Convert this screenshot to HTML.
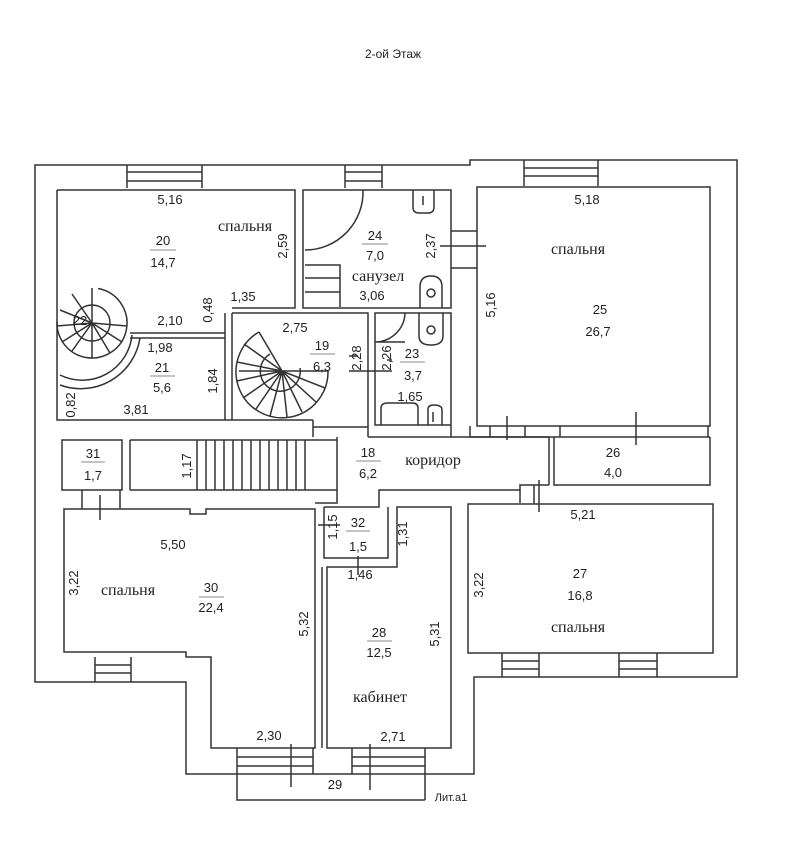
<!DOCTYPE html>
<html><head><meta charset="utf-8"><style>
html,body{margin:0;padding:0;background:#fff;}
svg{display:block;}
.n{font-family:"Liberation Sans",sans-serif;font-size:13px;fill:#222;text-anchor:middle;}
.w{font-family:"Liberation Serif","DejaVu Serif",serif;font-size:16px;fill:#222;text-anchor:middle;}
</style></head><body>
<svg width="803" height="850" viewBox="0 0 803 850" xmlns="http://www.w3.org/2000/svg">
<rect width="803" height="850" fill="#fff"/>
<text x="393" y="58" class="n" style="font-size:12px">2-ой Этаж</text>
<g fill="none" stroke="#333" stroke-width="1.5">
<!-- outer walls -->
<path d="M35,165 H470 V160 H737 V677 H474 V774 H186 V682 H35 Z"/>
<!-- windows top -->
<path d="M127,165 V188 M202,165 V188 M127,172 H202 M127,181 H202"/>
<path d="M345,165 V188 M382,165 V188 M345,172 H382 M345,181 H382"/>
<path d="M524,160 V186 M598,160 V186 M524,168 H598 M524,176 H598"/>
<!-- room 20/21 -->
<path d="M57,190 H295 V308 H232"/>
<path d="M57,190 V420 H313"/>
<path d="M130,333 H225 M130,338 H225"/>
<path d="M225,313 V420"/>
<path d="M232,313 V420"/>
<!-- room 24 -->
<path d="M303,190 H451 V308 H303 Z"/>
<path d="M363,190 A58,58 0 0 1 305,250"/>
<path d="M305,265 H340 V307 M305,278 H340 M305,292 H340"/>
<path d="M413,190 V207 Q413,213 419,213 H428 Q434,213 434,207 V190 M423,196 V205"/>
<path d="M420,308 V287 Q420,276 431,276 Q442,276 442,287 V308"/>
<circle cx="431" cy="293" r="4"/>
<path d="M451,231 H477 M451,268 H477 M440,246 H486"/>
<!-- room 19 -->
<path d="M232,313 H368 V427 H313 M368,313 V437"/>
<!-- room 23 -->
<path d="M375,313 H451 V425 H375 Z M368,437 H451 V425"/>
<path d="M375,342 A30,30 0 0 0 405,313 M375,342 H405"/>
<path d="M419,313 V336 Q419,345 431,345 Q443,345 443,336 V313"/>
<circle cx="431" cy="330" r="4"/>
<path d="M381,425 V408 Q381,403 388,403 H412 Q418,403 418,408 V425 M428,425 V409 Q428,405 434,405 Q442,405 442,410 V425 M433,412 V422"/>
<path d="M349,356 H358 M349,371 H392 M387,360 H392"/>
<!-- room 25 -->
<path d="M477,187 H710 V426 H477 Z"/>
<path d="M470,426 V437 H710 M490,426 V437 M525,426 V437 M560,426 V437 M708,426 V437"/>
<path d="M507,416 V440 M636,412 V445"/>
<!-- room 26 -->
<path d="M554,437 V485 H710 V437 M549,437 V485"/>
<!-- corridor -->
<path d="M451,437 H549 M549,485 H520 V503"/>
<path d="M313,420 V437 M337,437 V490"/>
<!-- stair / 31 -->
<path d="M130,440 H337 M130,490 H337 M130,440 V490"/>
<path d="M62,440 H122 V490 H62 Z"/>
<path d="M197,440 V490 M206,440 V490 M215,440 V490 M224,440 V490 M233,440 V490 M242,440 V490 M251,440 V490 M260,440 V490 M269,440 V490 M278,440 V490 M287,440 V490 M296,440 V490 M305,440 V490"/>
<path d="M82,490 V509 M120,490 V509 M100,495 V520"/>
<!-- room 30 -->
<path d="M64,509 H190 V514 H206 V509 H315 V748 H211 V657 H186 V652 H64 Z"/>
<path d="M337,490 V503 H315"/>
<path d="M95,657 V682 M131,657 V682 M95,665 H131 M95,673 H131"/>
<!-- room 32 / 28 -->
<path d="M324,507 H379 V490 H520 M324,507 V558 H388 V507"/>
<path d="M397,507 H451 V748 H327 V567 H397 Z"/>
<path d="M322,567 V748 M318,525 H340 M358,556 V575"/>
<!-- bottom windows -->
<path d="M237,748 V774 M313,748 V774 M237,757 H313 M237,766 H313 M291,744 V787"/>
<path d="M352,748 V774 M425,748 V774 M352,757 H425 M352,766 H425 M370,744 V790"/>
<!-- porch 29 -->
<path d="M237,774 V800 H425 M425,774 V800"/>
<!-- room 27 -->
<path d="M468,504 H713 V653 H468 Z"/>
<path d="M502,653 V677 M539,653 V677 M502,661 H539 M502,669 H539"/>
<path d="M619,653 V677 M657,653 V677 M619,661 H657 M619,669 H657"/>
<path d="M534,485 V504 M539,480 V512"/>
<!-- spiral 22 -->
<circle cx="92" cy="323" r="35" stroke-dasharray="160 60" transform="rotate(-80 92 323)"/>
<path d="M60,375 A50,50 0 0 0 132,335 M60,385 A60,60 0 0 0 140,338"/>
<path d="M92,323 L92,288 M92,323 L72,294 M92,323 L60,310 M92,323 L57,326 M92,323 L62,342 M92,323 L72,351 M92,323 L92,358 M92,323 L110,353 M92,323 L122,342 M92,323 L127,326"/>
<circle cx="92" cy="323" r="18"/>
<!-- spiral 19 -->
<path d="M259,332 A46,46 0 1 0 328,371 H282"/>
<path d="M282,371 L259,332 M282,371 L244,344 M282,371 L237,362 M282,371 L237,381 M282,371 L243,398 M282,371 L256,409 M282,371 L270,416 M282,371 L287,417 M282,371 L302,412 M282,371 L316,402 M282,371 L325,388 M282,371 L239,371"/>
<path d="M270,354 A20,20 0 1 0 300,368"/>
</g>
<g>
<text x="170" y="204" class="n">5,16</text>
<text x="245" y="231" class="w">спальня</text>
<text x="163" y="245" class="n">20</text>
<line x1="150" y1="250" x2="176" y2="250" stroke="#888"/>
<text x="163" y="267" class="n">14,7</text>
<text x="287" y="246" class="n" transform="rotate(-90 287 246)">2,59</text>
<text x="375" y="240" class="n">24</text>
<line x1="362" y1="244" x2="388" y2="244" stroke="#888"/>
<text x="375" y="260" class="n">7,0</text>
<text x="378" y="281" class="w">санузел</text>
<text x="372" y="300" class="n">3,06</text>
<text x="435" y="246" class="n" transform="rotate(-90 435 246)">2,37</text>
<text x="243" y="301" class="n">1,35</text>
<text x="212" y="310" class="n" transform="rotate(-90 212 310)">0,48</text>
<text x="170" y="325" class="n">2,10</text>
<text x="80" y="325" class="n">22</text>
<text x="160" y="352" class="n">1,98</text>
<text x="162" y="372" class="n">21</text>
<line x1="150" y1="376" x2="175" y2="376" stroke="#888"/>
<text x="162" y="392" class="n">5,6</text>
<text x="217" y="381" class="n" transform="rotate(-90 217 381)">1,84</text>
<text x="75" y="405" class="n" transform="rotate(-90 75 405)">0,82</text>
<text x="136" y="414" class="n">3,81</text>
<text x="295" y="332" class="n">2,75</text>
<text x="322" y="350" class="n">19</text>
<line x1="310" y1="354" x2="335" y2="354" stroke="#888"/>
<text x="322" y="371" class="n">6,3</text>
<text x="361" y="358" class="n" transform="rotate(-90 361 358)">2,28</text>
<text x="391" y="358" class="n" transform="rotate(-90 391 358)">2,26</text>
<text x="412" y="358" class="n">23</text>
<line x1="400" y1="362" x2="425" y2="362" stroke="#888"/>
<text x="413" y="380" class="n">3,7</text>
<text x="410" y="401" class="n">1,65</text>
<text x="587" y="204" class="n">5,18</text>
<text x="578" y="254" class="w">спальня</text>
<text x="495" y="305" class="n" transform="rotate(-90 495 305)">5,16</text>
<text x="600" y="314" class="n">25</text>
<text x="598" y="336" class="n">26,7</text>
<text x="368" y="457" class="n">18</text>
<line x1="356" y1="461" x2="381" y2="461" stroke="#888"/>
<text x="368" y="478" class="n">6,2</text>
<text x="433" y="465" class="w">коридор</text>
<text x="613" y="457" class="n">26</text>
<text x="613" y="477" class="n">4,0</text>
<text x="191" y="466" class="n" transform="rotate(-90 191 466)">1,17</text>
<text x="93" y="458" class="n">31</text>
<line x1="81" y1="462" x2="105" y2="462" stroke="#888"/>
<text x="93" y="480" class="n">1,7</text>
<text x="583" y="519" class="n">5,21</text>
<text x="483" y="585" class="n" transform="rotate(-90 483 585)">3,22</text>
<text x="580" y="578" class="n">27</text>
<text x="580" y="600" class="n">16,8</text>
<text x="578" y="632" class="w">спальня</text>
<text x="173" y="549" class="n">5,50</text>
<text x="78" y="583" class="n" transform="rotate(-90 78 583)">3,22</text>
<text x="128" y="595" class="w">спальня</text>
<text x="211" y="592" class="n">30</text>
<line x1="199" y1="597" x2="224" y2="597" stroke="#888"/>
<text x="211" y="612" class="n">22,4</text>
<text x="308" y="624" class="n" transform="rotate(-90 308 624)">5,32</text>
<text x="337" y="527" class="n" transform="rotate(-90 337 527)">1,15</text>
<text x="358" y="527" class="n">32</text>
<line x1="346" y1="531" x2="370" y2="531" stroke="#888"/>
<text x="358" y="551" class="n">1,5</text>
<text x="407" y="534" class="n" transform="rotate(-90 407 534)">1,31</text>
<text x="360" y="579" class="n">1,46</text>
<text x="379" y="637" class="n">28</text>
<line x1="367" y1="641" x2="392" y2="641" stroke="#888"/>
<text x="379" y="657" class="n">12,5</text>
<text x="439" y="634" class="n" transform="rotate(-90 439 634)">5,31</text>
<text x="380" y="702" class="w">кабинет</text>
<text x="269" y="740" class="n">2,30</text>
<text x="393" y="741" class="n">2,71</text>
<text x="335" y="789" class="n">29</text>
<text x="451" y="801" class="n" style="font-size:11px">Лит.а1</text>
</g>
</svg>
</body></html>
